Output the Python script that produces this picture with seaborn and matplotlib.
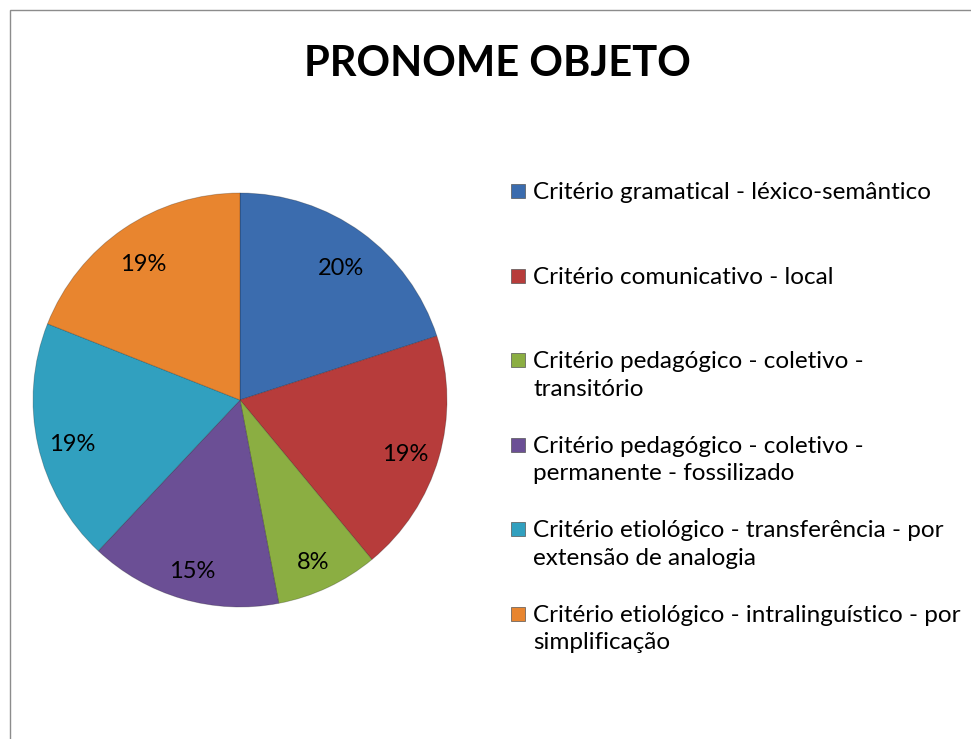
import matplotlib.pyplot as plt
import matplotlib.transforms as mtransforms
import seaborn as sns
from matplotlib.patches import Rectangle

categories = [
    'Critério gramatical - léxico-semântico',
    'Critério comunicativo - local',
    'Critério pedagógico - coletivo -\ntransitório',
    'Critério pedagógico - coletivo -\npermanente - fossilizado',
    'Critério etiológico - transferência - por\nextensão de analogia',
    'Critério etiológico - intralinguístico - por\nsimplificação',
]
shares = [20, 19, 8, 15, 19, 19]
colors = ['#3b6cae', '#b73c3b', '#8bae42', '#6b4f95', '#31a0bf', '#e8852f']
title = 'PRONOME OBJETO'


def plot_pronome_objeto():
    sns.set_theme(style='white')
    plt.rcParams['font.family'] = ['Lato', 'DejaVu Sans']

    W, H = 971, 739
    fig = plt.figure(figsize=(W / 100, H / 100), dpi=100)

    # chart border (Excel chart area)
    fig.patches.append(Rectangle((10 / W, -0.1), 1.2, 1 - 10 / H + 0.1,
                                 transform=fig.transFigure, fill=False,
                                 edgecolor='#8c8c8c', linewidth=1.0))

    cx, cy, r = 240, 400, 207
    ax = fig.add_axes([(cx - r) / W, (H - cy - r) / H, 2 * r / W, 2 * r / H])
    wedges, texts, autotexts = ax.pie(
        shares, colors=sns.color_palette(colors), startangle=90,
        counterclock=False, autopct='%1.0f%%', pctdistance=0.83,
        wedgeprops=dict(edgecolor='#00000040', linewidth=0.6),
        textprops=dict(fontsize=17, color='black'))
    ax.set_xlim(-1, 1)
    ax.set_ylim(-1, 1)
    ax.set_aspect('equal')
    ax.axis('off')

    # Excel sets its labels a little lower than the radial spot
    shifted = mtransforms.offset_copy(ax.transData, fig=fig, y=-7, units='dots')
    for t in autotexts:
        t.set_transform(shifted)

    fig.text(497 / W, 1 - 64 / H, title, ha='center', va='center',
             fontsize=30, fontweight='bold', color='black')

    # legend, drawn by hand so every entry starts on an even step
    y0, step = 191, 84.6
    for i, (label, color) in enumerate(zip(categories, colors)):
        y = y0 + i * step
        fig.patches.append(Rectangle((511 / W, 1 - (y + 7) / H), 14 / W, 14 / H,
                                     transform=fig.transFigure,
                                     facecolor=color, edgecolor='#555555',
                                     linewidth=0.5))
        fig.text(533 / W, 1 - (y - 9) / H, label, ha='left', va='top',
                 fontsize=17.5, linespacing=1.38, color='black')

    fig.savefig('out.png', dpi=100)


if __name__ == '__main__':
    plot_pronome_objeto()
